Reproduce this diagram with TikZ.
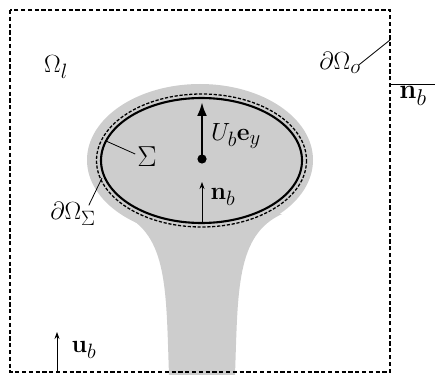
\documentclass[tikz,border=0pt]{standalone}
\usetikzlibrary{arrows.meta}
\definecolor{blobgray}{RGB}{205,205,205}
\tikzset{
  lbl/.style={inner sep=0pt, font=\Huge},
  leader/.style={line width=0.8pt},
  thinarrow/.style={line width=0.8pt, -{Stealth[length=7pt,width=5pt]}},
  bigarrow/.style={line width=2.5pt, -{Latex[length=14pt,width=10pt]}},
  outerbox/.style={line width=2pt, dash pattern=on 4.2pt off 2.6pt},
  surface/.style={line width=2.1pt},
  layer/.style={line width=1.3pt, dash pattern=on 3.2pt off 1.7pt}
}
\begin{document}
\begin{tikzpicture}[x=1pt,y=-1pt]
\useasboundingbox (0,0) rectangle (435,374);
\clip (0,0) rectangle (435,374);
% gray blob
\fill[blobgray] (200,160) ellipse [x radius=113, y radius=76];
\fill[blobgray] (169,375) .. controls (166,290) and (168,235) .. (122,214)
   -- (282,214) .. controls (236,235) and (238,290) .. (235,375) -- cycle;
% outer domain
\draw[outerbox] (10,10) rectangle (390,372);
% surfaces
\draw[layer] (201.5,160.5) ellipse [x radius=105, y radius=66.5];
\draw[surface] (201.5,160.5) ellipse [x radius=100.5, y radius=62.5];
% coordinates
\coordinate (c) at (202,159);
\coordinate (ubtip) at (202,102);
\coordinate (bot) at (202,223);
\coordinate (nbtip) at (202,182);
\coordinate (uin) at (57,372);
\coordinate (utip) at (57,332);
\coordinate (nbR0) at (390,84);
\coordinate (nbR1) at (445,84);
\coordinate (sigpt) at (106,141);
\coordinate (dspt) at (102,178);
\coordinate (dopt) at (390,40);
% arrows
\draw[bigarrow] (c) -- (ubtip);
\fill (c) circle (4.6);
\draw[thinarrow] (bot) -- (nbtip);
\draw[thinarrow] (uin) -- (utip);
\draw[thinarrow] (nbR0) -- (nbR1);
% labels
\node[lbl] (omegal) at (56,67) {$\Omega_l$};
\node[lbl] (dOo) at (340,63) {$\partial\Omega_o$};
\node[lbl] (sig) at (147,157) {\scalebox{1.16}{$\Sigma$}};
\node[lbl] (dOS) at (73,214) {$\partial\Omega_\Sigma$};
\node[lbl] (Ub) at (236,136) {$U_b\mathbf{e}_y$};
\node[lbl] (nbin) at (223,197) {$\mathbf{n}_b$};
\node[lbl] (ubl) at (84,350) {$\mathbf{u}_b$};
\node[lbl] (nbout) at (413,96) {\scalebox{1.1}{$\mathbf{n}_b$}};
% leaders
\draw[leader] ([xshift=-2pt,yshift=3pt]sig.west) -- (sigpt);
\draw[leader] ([xshift=-7pt,yshift=-3pt]dOS.north east) -- (dspt);
\draw[leader] ([xshift=-2pt,yshift=-2pt]dOo.east) -- (dopt);
\end{tikzpicture}
\end{document}
